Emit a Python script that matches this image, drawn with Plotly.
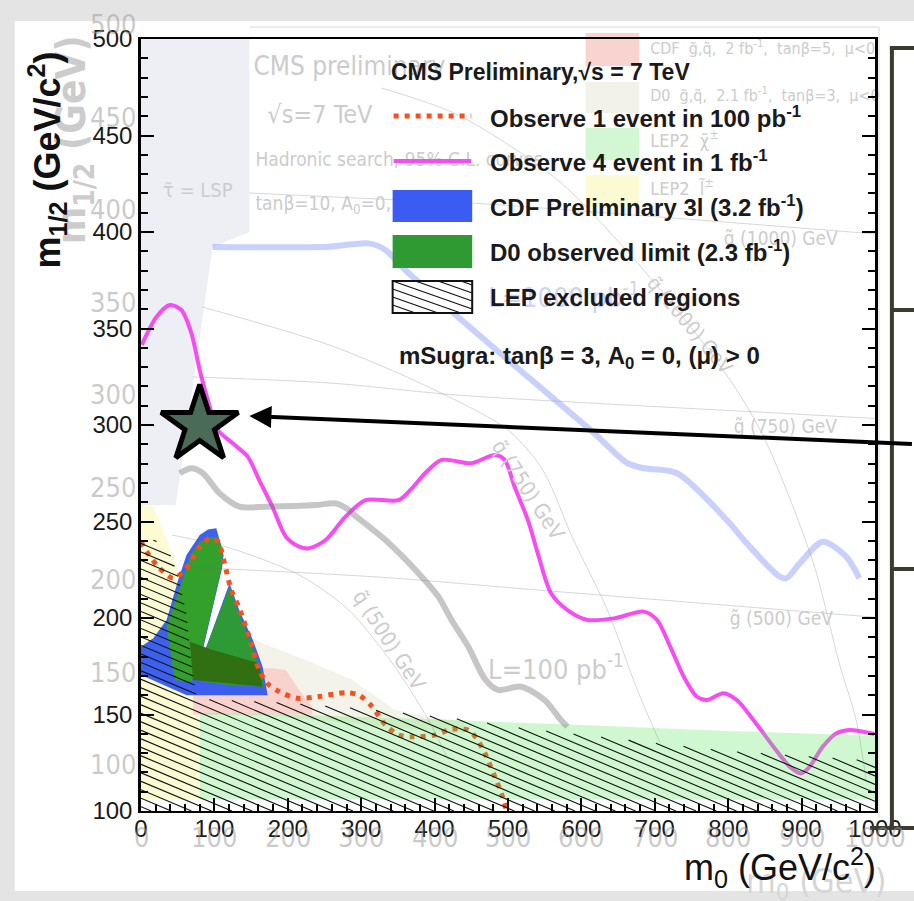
import numpy as np
import plotly.graph_objects as go

# ---------------------------------------------------------------- geometry
W, H = 914, 901
L, R, T, B = 141, 879, 39, 811          # plot-area edges (px)
M0_RANGE = [0, 1000]                     # m0  (GeV/c^2)
MH_RANGE = [100, 500]                    # m1/2 (GeV/c^2)


def fx(p):
    return (p - L) / (R - L)


def fy(p):
    return (B - p) / (B - T)


def dx(p):
    return M0_RANGE[0] + (p - L) / (R - L) * (M0_RANGE[1] - M0_RANGE[0])


def dy(p):
    return MH_RANGE[0] + (B - p) / (B - T) * (MH_RANGE[1] - MH_RANGE[0])


MAIN = "Liberation Sans, Arial, Helvetica, sans-serif"
NARROW = "Liberation Sans Narrow, DejaVu Sans Condensed, Arial Narrow, sans-serif"
GHOST = "#cccccc"
GHOST_SEE_THROUGH = "rgba(150,150,150,0.5)"

# ---------------------------------------------------------------- data
# Observe 1 event in 100 pb^-1
obs100_m0 = [0, 7.7, 23.4, 43.8, 62, 80, 93.5, 104.7, 113.8, 122.9, 134, 150, 161,
             172.5, 188, 213, 242.5, 278.6, 296.7, 314.8, 333, 351, 369, 400.7, 423,
             445.8, 457, 468.4, 482, 491, 497.8]
obs100_mh = [239.5, 234.4, 226.6, 220.6, 225.8, 237, 241.3, 239.6, 228.3, 214.5, 205,
             187, 173, 166, 161.9, 158.4, 159.3, 161.3, 160.1, 154.1, 144.6, 139.4,
             138.5, 139.4, 142.3, 142, 137.7, 130, 117.8, 109.2, 100.5]

# Observe 4 events in 1 fb^-1
obs1fb_m0 = [1, 21, 39.3, 55, 68.7, 80, 91, 104.7, 125, 145.4, 161, 179, 197.4, 215.4,
             229, 251.6, 278.7, 305.8, 351, 369, 387, 409.6, 450.3, 482, 495.5, 509,
             527, 540.6, 558.7, 581, 608.4, 644.6, 685, 703, 721, 739.4, 757.5, 771,
             793.6, 811.7, 834.3, 861.4, 883.9, 899.7, 911, 929, 947, 965, 999]
obs1fb_mh = [341.5, 356, 362.2, 359.6, 347.5, 328.5, 313, 297.4, 290.5, 283.6, 271.5,
             257.7, 242.1, 237, 236.1, 240.4, 252.5, 261.1, 261.1, 267.2, 275, 281.9,
             280.2, 284.5, 281.9, 268, 250.8, 233.5, 212.8, 204.1, 199, 199.8, 203.3,
             199, 185.2, 169.6, 159.2, 157.5, 161, 157.5, 147.2, 133.4, 123, 119.5,
             123, 133.4, 140.2, 142, 139.9]

# CDF preliminary trilepton exclusion (3.2 fb^-1)
cdf3l_m0 = [0, 16.7, 34.8, 50.6, 62, 80, 91.2, 102.6, 107, 112.5, 110.5, 81, 82.5,
            120.6, 134, 152.4, 165.7, 172.5, 62.3, 0]
cdf3l_mh = [185.1, 189.5, 199, 219.7, 232.7, 243, 245.9, 246.5, 240.4, 232.7, 226,
            178.2, 178.2, 218, 204, 188.6, 174.8, 160, 160, 170.5]

# D0 observed limit (2.3 fb^-1): two lobes and their overlap
d0_left_m0 = [34.8, 57.3, 68.7, 80, 95.8, 107, 111.5, 109.3, 80, 68.7, 46.1]
d0_left_mh = [195.5, 221.4, 233.5, 239.5, 242.1, 240.8, 234.4, 224.9, 178.2, 167, 167.9]
d0_right_m0 = [120.6, 129.7, 150, 165.7, 166.7, 120.6, 84.4, 82.2]
d0_right_mh = [216.2, 205.9, 186.9, 169.6, 164.4, 165.3, 167, 178.2]
d0_core_m0 = [66.4, 98, 161, 165.7, 71]
d0_core_mh = [187.7, 183.4, 176.5, 164.4, 167.9]

# stau-LSP region
lsp_m0 = [0, 147.7, 147.7, 97.6, 47.4, 0]
lsp_mh = [500, 500, 400, 392.2, 258.5, 258.5]

# LEP2 slepton / chargino, CDF and D0 squark-gluino regions
slep_m0 = [0, 0, 16, 39, 50.6, 62, 68.7, 77.6, 80, 80]
slep_mh = [106, 258.5, 258, 236.8, 223, 202.4, 176.5, 150.6, 150.6, 106]
chi_m0 = [80, 80, 200, 400, 600, 800, 1000, 1000]
chi_mh = [106, 150.8, 150, 147.5, 144.5, 141.5, 139, 106]
cdfsq_m0 = [71, 71, 120, 180, 197.4, 215, 233.5, 233.5]
cdfsq_mh = [150, 172, 174, 174, 173, 163, 154, 150]
d0sq_m0 = [150, 150, 165.7, 224.5, 287.7, 346.5, 400.7, 423, 440, 440]
d0sq_mh = [150, 190, 186.9, 178.2, 168, 152.3, 148, 147.3, 146.5, 140]

# upper edge of the LEP-excluded (hatched) area
lep_edge_m0 = [0, 20, 39, 50.6, 62, 68.7, 76, 200, 300, 450, 500, 800, 1000]
lep_edge_mh = [242, 240, 234, 222, 202, 176.5, 158, 156, 153, 147, 143.7, 131, 126]

# hadronic-search reach curves
reach100_m0 = [52.8, 68.7, 84.4, 107, 134, 170, 238, 265, 283, 287.7, 333, 378, 405,
               423, 445.8, 468.4, 486.4, 518, 549.7, 572, 581]
reach100_mh = [275, 277.6, 275, 264.6, 257.7, 257.7, 258.5, 259.4, 256, 254.3, 240.4,
               223.2, 211.1, 199, 185.2, 168.5, 162.7, 164.4, 157.5, 147.2, 143.7]
reach1000_m0 = [97.6, 256, 310.3, 333, 360, 436.7, 527, 617.5, 662.6, 685.2, 730.3, 798,
                825.2, 870.3, 879.4, 897.4, 929, 960.7, 978.7]
reach1000_mh = [392.2, 392.4, 394.1, 390.7, 380.3, 354.4, 325, 295.7, 280.2, 277.6, 275,
                250.8, 238.7, 221.4, 220.6, 228.3, 239.5, 231.8, 220.6]

# iso-mass contours (gluino, squark)
gl1000_m0 = [147.7, 351, 449.9, 689.7, 1000]
gl1000_mh = [420.2, 416.6, 415, 408.3, 399]
gl750_m0 = [70.5, 256, 432, 865.9, 1000]
gl750_mh = [324.9, 321.8, 315.5, 306.2, 303.4]
gl500_m0 = [62.3, 323.8, 540.7, 1000]
gl500_mh = [226.4, 221.2, 214.5, 200.4]
sq1000_m0 = [327.9, 432.2, 567.8, 676.2, 757.5, 811.7, 852.3, 916, 951.2, 974.3, 987.8]
sq1000_mh = [474.6, 460.6, 426.9, 384, 346.6, 318.1, 290.7, 228.5, 176.7, 147.2, 116.1]
sq750_m0 = [84, 256.1, 391.6, 500, 547.4, 588, 635.5, 676.2, 707.3]
sq750_mh = [361.1, 341.5, 319.7, 297.4, 276.7, 241.5, 204.1, 162.7, 135.2]
sq500_m0 = [42, 120.6, 215.4, 283.2, 344.2, 391.6, 418.7]
sq500_mh = [243, 236.3, 222.3, 204.1, 175.6, 147.2, 126.4]

# benchmark point
bench_m0 = [80]
bench_mh = [300]

# tick labels
m0_ticks = list(range(0, 1001, 100))
mh_ticks = list(range(100, 501, 50))
ghost_mh_ticks = [500, 450, 400, 350, 300, 250, 200, 150, 100]

# ---------------------------------------------------------------- figure
fig = go.Figure()


def area(xs, ys, color):
    fig.add_trace(go.Scatter(x=xs, y=ys, mode="lines", fill="toself", fillcolor=color,
                             line=dict(width=0, color=color),
                             hoverinfo="skip", showlegend=False))


def curve(xs, ys, color, width, dash="solid", smoothing=0.8):
    fig.add_trace(go.Scatter(x=xs, y=ys, mode="lines",
                             line=dict(color=color, width=width, dash=dash,
                                       shape="spline", smoothing=smoothing),
                             hoverinfo="skip", showlegend=False))


area(lsp_m0, lsp_mh, "#eeeef5")
area(slep_m0, slep_mh, "#fcfbd4")
area(d0sq_m0, d0sq_mh, "#f4f3e9")
area(cdfsq_m0, cdfsq_mh, "#f9d2cd")
area(cdf3l_m0, cdf3l_mh, "rgba(52,88,238,0.95)")
area(d0_left_m0, d0_left_mh, "#32a02b")
area(d0_right_m0, d0_right_mh, "#2d9a36")
area(d0_core_m0, d0_core_mh, "#306f12")

curve(obs100_m0, obs100_mh, "#f5501e", 5, dash="5px,6px")
curve(obs1fb_m0, obs1fb_mh, "#f64cf2", 4)

# LEP2 chargino band drawn translucent over the curves
area(chi_m0, chi_mh, "rgba(100,232,100,0.30)")

# LEP hatching: parallel lines clipped to the excluded area
HATCH_SLOPE, HATCH_STEP = -0.16, 4.4
xs = np.linspace(M0_RANGE[0], M0_RANGE[1], 4001)
top = np.interp(xs, lep_edge_m0, lep_edge_mh)
hx, hy = [], []
for c in np.arange(MH_RANGE[0] + HATCH_STEP / 2, 292, HATCH_STEP):
    yl = c + HATCH_SLOPE * xs
    idx = np.flatnonzero((yl >= MH_RANGE[0]) & (yl <= top))
    if idx.size == 0:
        continue
    brk = np.flatnonzero(np.diff(idx) > 1)
    for s, e in zip(np.r_[idx[0], idx[brk + 1]], np.r_[idx[brk], idx[-1]]):
        hx += [xs[s], xs[e], None]
        hy += [yl[s], yl[e], None]
fig.add_trace(go.Scatter(x=hx, y=hy, mode="lines", line=dict(color="#111", width=1.1),
                         hoverinfo="skip", showlegend=False))

# faint iso-mass contours and reach curves of the hadronic search
for gx, gy in [(gl1000_m0, gl1000_mh), (gl750_m0, gl750_mh), (gl500_m0, gl500_mh),
               (sq1000_m0, sq1000_mh), (sq750_m0, sq750_mh), (sq500_m0, sq500_mh)]:
    curve(gx, gy, "rgba(110,110,110,0.28)", 1)
curve(reach100_m0, reach100_mh, "rgba(120,120,120,0.42)", 6)
curve(reach1000_m0, reach1000_mh, "rgba(125,145,245,0.42)", 6)

# benchmark star
fig.add_trace(go.Scatter(x=bench_m0, y=bench_mh, mode="markers",
                         marker=dict(symbol="star", size=58, color="#4a6b58",
                                     line=dict(color="black", width=5)),
                         hoverinfo="skip", showlegend=False))

# ghost captions inside the frame (left aligned)
ghost_txt = [
    (254, 68, "CMS preliminary", 26),
    (268, 117, "√s=7 TeV", 25),
    (256, 161, "Hadronic search, 95% C.L. curves", 19),
    (256, 205, "tanβ=10, A<sub>0</sub>=0, μ>0", 19),
    (163, 192, "τ̃ = LSP", 20),
    (653, 50, "CDF  g̃,q̃,  2 fb<sup>-1</sup>,  tanβ=5,  μ<0", 16),
    (653, 97, "D0  g̃,q̃,  2.1 fb<sup>-1</sup>,  tanβ=3,  μ<0", 16),
    (653, 142, "LEP2  χ̃<sup>±</sup>", 18),
    (653, 190, "LEP2  l̃<sup>±</sup>", 18),
    (490, 672, "L=100 pb<sup>-1</sup>", 27),
    (733, 620, "g̃ (500) GeV", 19),
    (737, 428, "g̃ (750) GeV", 19),
    (727, 240, "g̃ (1000) GeV", 19),
]
fig.add_trace(go.Scatter(
    x=[dx(p[0]) for p in ghost_txt], y=[dy(p[1]) for p in ghost_txt],
    mode="text", text=[p[2] for p in ghost_txt], textposition="middle right",
    textfont=dict(family=NARROW, size=[p[3] for p in ghost_txt], color=GHOST),
    cliponaxis=False, hoverinfo="skip", showlegend=False))
fig.add_trace(go.Scatter(
    x=[dx(490)], y=[dy(300)], mode="text", text=["L=1000 pb<sup>-1</sup>"],
    textposition="middle right",
    textfont=dict(family=NARROW, size=27, color="#cdd3f6"),
    cliponaxis=False, hoverinfo="skip", showlegend=False))

# ---------------------------------------------------------------- shapes
shapes = [
    dict(type="rect", xref="paper", yref="paper", x0=fx(14), x1=fx(W + 5),
         y0=fy(891), y1=fy(21), fillcolor="white", line=dict(width=0), layer="below"),
    # frame of the underlying plot
    dict(type="line", xref="paper", yref="paper", x0=fx(250), x1=fx(883), y0=fy(27),
         y1=fy(27), line=dict(color="#dadada", width=1), layer="below"),
    dict(type="line", xref="paper", yref="paper", x0=fx(883), x1=fx(883), y0=fy(27),
         y1=fy(818), line=dict(color="#dadada", width=1), layer="below"),
]
# swatches of the underlying legend
for y0, y1, col in [(33, 66, "#f9d3cf"), (82, 113, "#f3f2e8"), (128, 160, "#d3f7d3"),
                    (175, 207, "#fbfad2")]:
    shapes.append(dict(type="rect", xref="paper", yref="paper", x0=fx(588), x1=fx(642),
                       y0=fy(y1), y1=fy(y0), fillcolor=col, line=dict(width=0),
                       layer="below"))
# table frame on the right
FR = dict(color="#3b3b2f", width=4)
shapes += [
    dict(type="line", xref="paper", yref="paper", x0=fx(896), x1=fx(896), y0=fy(46),
         y1=fy(830), line=FR),
    dict(type="line", xref="paper", yref="paper", x0=fx(894), x1=fx(W + 5), y0=fy(48),
         y1=fy(48), line=FR),
    dict(type="line", xref="paper", yref="paper", x0=fx(896), x1=fx(W + 5), y0=fy(310),
         y1=fy(310), line=FR),
    dict(type="line", xref="paper", yref="paper", x0=fx(896), x1=fx(W + 5), y0=fy(569),
         y1=fy(569), line=FR),
    dict(type="line", xref="paper", yref="paper", x0=fx(874), x1=fx(W + 5), y0=fy(828),
         y1=fy(828), line=FR),
]
# legend swatches
SX0, SX1 = 394, 474
shapes += [
    dict(type="line", xref="paper", yref="paper", x0=fx(SX0 + 1), x1=fx(SX1 - 1),
         y0=fy(116), y1=fy(116), line=dict(color="#f5501e", width=5, dash="5px,6px")),
    dict(type="line", xref="paper", yref="paper", x0=fx(SX0 + 1), x1=fx(SX1 - 1),
         y0=fy(161), y1=fy(161), line=dict(color="#f64cf2", width=4)),
    dict(type="rect", xref="paper", yref="paper", x0=fx(SX0), x1=fx(SX1), y0=fy(222),
         y1=fy(190), fillcolor="#3a5cf2", line=dict(width=0)),
    dict(type="rect", xref="paper", yref="paper", x0=fx(SX0), x1=fx(SX1), y0=fy(268),
         y1=fy(235), fillcolor="#2f9a31", line=dict(width=0)),
    dict(type="rect", xref="paper", yref="paper", x0=fx(SX0), x1=fx(SX1), y0=fy(313),
         y1=fy(281), fillcolor="white", line=dict(color="#111", width=2)),
]
HY0, HY1, HS = 281, 313, 0.35
for b in np.arange(HY0 - HS * (SX1 - SX0) + 4, HY1, 8):
    xa = max(SX0, SX0 + (HY0 - b) / HS)
    xb = min(SX1, SX0 + (HY1 - b) / HS)
    if xb - xa > 2:
        shapes.append(dict(type="line", xref="paper", yref="paper",
                           x0=fx(xa), x1=fx(xb), y0=fy(b + HS * (xa - SX0)),
                           y1=fy(b + HS * (xb - SX0)), line=dict(color="#111", width=1.2)))

# ---------------------------------------------------------------- annotations
ann = []


def note(px, py, text, size, color="#1a1a1a", family=MAIN, xanchor="left", angle=0):
    ann.append(dict(xref="paper", yref="paper", x=fx(px), y=fy(py), text=text,
                    showarrow=False, xanchor=xanchor, yanchor="middle", textangle=angle,
                    font=dict(family=family, size=size, color=color)))


# tick numbers of the underlying plot (see-through so the real ticks stay legible)
for v in ghost_mh_ticks:
    note(113, 487 - (v - 250) * 1.85, str(v), 27, GHOST_SEE_THROUGH, NARROW, "center")
for v in m0_ticks:
    note(L + (R - L) * v / 1000, 838, str(v), 27, GHOST_SEE_THROUGH, NARROW, "center")

# rotated captions of the underlying plot
note(74, 140, "<b>m<sub>1/2</sub> (GeV)</b>", 40, GHOST, NARROW, "center", -90)
note(892, 884, "m<sub>0</sub> (GeV)", 34, "#d6d6d6", NARROW, "right")
note(390, 640, "q̃ (500) GeV", 21, GHOST, NARROW, "center", 57)
note(530, 490, "q̃ (750) GeV", 21, GHOST, NARROW, "center", 57)
note(693, 325, "q̃ (1000) GeV", 20, GHOST, NARROW, "center", 50)

# axis titles
note(46, 160, "<b>m<sub>1/2</sub> (GeV/c<sup>2</sup>)</b>", 36, "#111", MAIN, "center", -90)
note(882, 867, "m<sub>0</sub> (GeV/c<sup>2</sup>)", 36, "#111", MAIN, "right")

# legend
note(390, 72, "<b>CMS Preliminary,√s = 7 TeV</b>", 23)
note(490, 117, "<b>Observe 1 event in 100 pb<sup>-1</sup></b>", 24)
note(490, 161, "<b>Observe 4 event in 1 fb<sup>-1</sup></b>", 24)
note(490, 206, "<b>CDF Preliminary 3l (3.2 fb<sup>-1</sup>)</b>", 24)
note(490, 251, "<b>D0 observed limit (2.3 fb<sup>-1</sup>)</b>", 24)
note(490, 297, "<b>LEP excluded regions</b>", 24)
note(398, 357, "<b>mSugra: tanβ = 3, A<sub>0</sub> = 0, (μ) > 0</b>", 24)

# arrow pointing at the benchmark point
ann.append(dict(xref="paper", yref="paper", x=fx(250), y=fy(416), ax=664, ay=28,
                axref="pixel", ayref="pixel", text="", showarrow=True, arrowhead=2,
                arrowsize=1.1, arrowwidth=4, arrowcolor="black", standoff=0))

# ---------------------------------------------------------------- layout
axis_common = dict(showgrid=False, zeroline=False, showline=True, linecolor="black",
                   ticks="inside", tickcolor="black", tickwidth=1.5, ticklen=13,
                   tickfont=dict(family=MAIN, size=24, color="#1a1a1a"))
fig.update_layout(
    width=W, height=H,
    margin=dict(l=L, r=W - R, t=T, b=H - B, pad=0),
    paper_bgcolor="#e4e4e4", plot_bgcolor="white",
    xaxis=dict(range=M0_RANGE, tickvals=m0_ticks, linewidth=2, mirror=True,
               minor=dict(dtick=20, ticklen=7, ticks="inside", tickcolor="black"),
               ticklabelstandoff=-5, **axis_common),
    yaxis=dict(range=MH_RANGE, tickvals=mh_ticks, linewidth=2.5, mirror="allticks",
               minor=dict(dtick=10, ticklen=7, ticks="inside", tickcolor="black"),
               ticklabelstandoff=1, **axis_common),
    shapes=shapes, annotations=ann, showlegend=False,
)

fig.write_html("out.html", config={"displayModeBar": False})
